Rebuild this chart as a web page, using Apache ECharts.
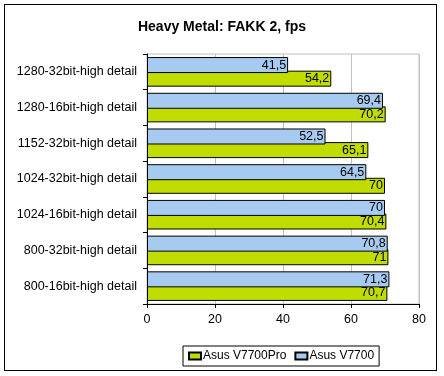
<!DOCTYPE html>
<html>
<head>
<meta charset="utf-8">
<script src="https://cdn.jsdelivr.net/npm/echarts@6/dist/echarts.min.js"></script>
<style>
  html, body { margin: 0; padding: 0; background: #fff; }
  #frame { position: absolute; left: 4px; top: 4px; width: 433px; height: 367px; border: 1px solid #000; box-sizing: border-box; }
  #chart { width: 444px; height: 376px; }
</style>
</head>
<body>
<div id="frame"></div>
<div id="chart"></div>
<script>
// chart data
var categories = [
  "1280-32bit-high detail",
  "1280-16bit-high detail",
  "1152-32bit-high detail",
  "1024-32bit-high detail",
  "1024-16bit-high detail",
  "800-32bit-high detail",
  "800-16bit-high detail"
];
var v7700 = [41.5, 69.4, 52.5, 64.5, 70, 70.8, 71.3];
var v7700pro = [54.2, 70.2, 65.1, 70, 70.4, 71, 70.7];
var xTicks = [0, 20, 40, 60, 80];

function commaLabel(p) {
  return String(p.value).replace(".", ",");
}

var chart = echarts.init(document.getElementById("chart"));

var option = {
  animation: false,
  title: {
    text: "Heavy Metal: FAKK 2, fps",
    left: "center",
    top: 15,
    textStyle: { fontFamily: "Liberation Sans", fontSize: 14, fontWeight: "bold", color: "#000" }
  },
  legend: {
    data: ["Asus V7700Pro", "Asus V7700"],
    left: 183,
    top: 346,
    icon: "rect",
    itemWidth: 12,
    itemHeight: 7,
    itemGap: 8,
    padding: [4, 5, 4, 5],
    borderColor: "#000",
    borderWidth: 1,
    textStyle: { fontFamily: "Liberation Sans", fontSize: 12, color: "#000", padding: [0, 0, 0, -3] }
  },
  grid: {
    left: 147,
    right: 25,
    top: 54,
    bottom: 72,
    show: true,
    borderColor: "#c0c0c0",
    borderWidth: 1,
    backgroundColor: "#fff"
  },
  xAxis: {
    type: "value",
    min: 0,
    max: xTicks[xTicks.length - 1],
    interval: 20,
    axisLine: { show: true, lineStyle: { color: "#000" } },
    axisTick: { show: true, length: 4, lineStyle: { color: "#000" } },
    axisLabel: { fontFamily: "Liberation Sans", fontSize: 12.5, color: "#000", margin: 9 },
    splitLine: { show: true, lineStyle: { color: "#c0c0c0" } }
  },
  yAxis: {
    type: "category",
    data: categories,
    inverse: true,
    axisLine: { show: true, lineStyle: { color: "#000" } },
    axisTick: { show: true, length: 4, lineStyle: { color: "#000" } },
    axisLabel: { fontFamily: "Liberation Sans", fontSize: 12.5, color: "#000", margin: 10 },
    splitLine: { show: false }
  },
  series: [
    {
      type: "bar",
      name: "Asus V7700",
      data: v7700,
      z: 3,
      barWidth: 16,
      barGap: "-15%",
      itemStyle: { color: "#a6caf0", borderColor: "#000", borderWidth: 1 },
      label: {
        show: true,
        position: "insideRight",
        distance: 2,
        formatter: commaLabel,
        fontFamily: "Liberation Sans",
        fontSize: 12.5,
        color: "#000"
      }
    },
    {
      type: "bar",
      name: "Asus V7700Pro",
      data: v7700pro,
      z: 2,
      barWidth: 16,
      barGap: "-15%",
      itemStyle: { color: "#c0dc00", borderColor: "#000", borderWidth: 1 },
      label: {
        show: true,
        position: "insideRight",
        distance: 2,
        formatter: commaLabel,
        fontFamily: "Liberation Sans",
        fontSize: 12.5,
        color: "#000"
      }
    }
  ]
};

chart.setOption(option);
</script>
</body>
</html>
